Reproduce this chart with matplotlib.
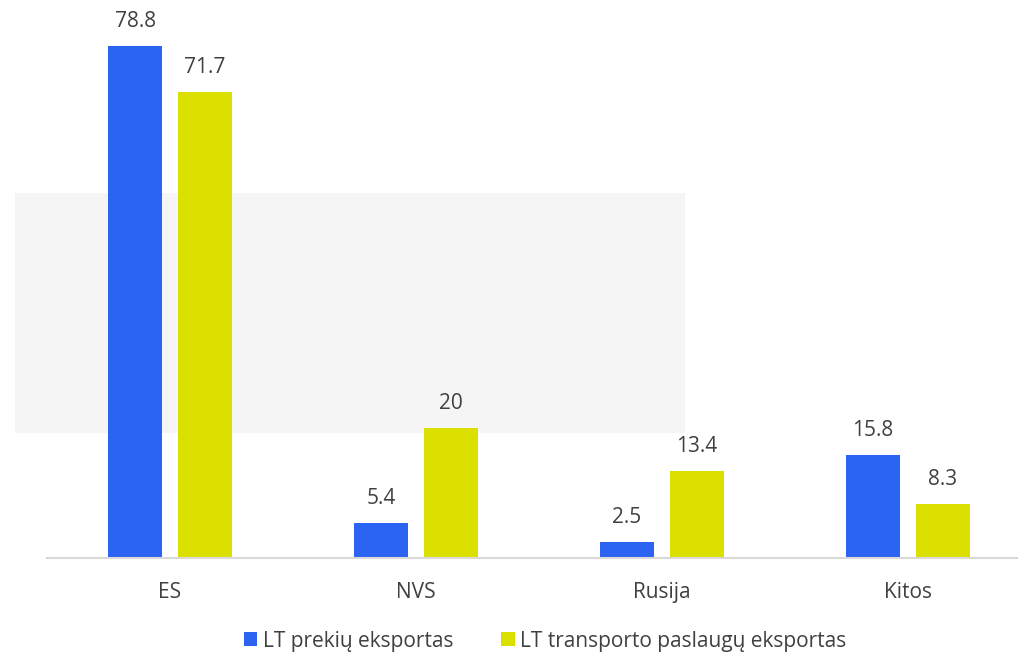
import numpy as np
import matplotlib.pyplot as plt
from matplotlib.patches import Rectangle

# --- data
categories = ['ES', 'NVS', 'Rusija', 'Kitos']
goods = [78.8, 5.4, 2.5, 15.8]
transport = [71.7, 20, 13.4, 8.3]
series_names = ['LT prekių eksportas', 'LT transporto paslaugų eksportas']

BLUE = '#2b63f2'
YELLOW = '#dce000'
TXT = '#404040'
FS = 15

plt.rcParams['font.family'] = ['Open Sans', 'DejaVu Sans']

W, H = 1018, 656
fig = plt.figure(figsize=(W / 100, H / 100), dpi=100)

ax = fig.add_axes([47 / W, 1 - 558 / H, 1 - 47 / W, 558 / H])
ax.patch.set_alpha(0)

# light grey decorative band behind the bars
ax.add_patch(Rectangle((15 / W, 1 - 433 / H), 670 / W, 240 / H,
                       transform=fig.transFigure, facecolor='#f5f5f5',
                       edgecolor='none', zorder=0, clip_on=False))

x = np.arange(len(categories))
bw = 0.22
off = 0.142
b1 = ax.bar(x - off, goods, bw, color=BLUE, label=series_names[0], zorder=2)
b2 = ax.bar(x + off, transport, bw, color=YELLOW, label=series_names[1], zorder=2)

for bars, vals in ((b1, goods), (b2, transport)):
    for r, v in zip(bars, vals):
        ax.annotate('{:g}'.format(v), (r.get_x() + r.get_width() / 2, v),
                    xytext=(0, 10), textcoords='offset points',
                    ha='center', va='bottom', fontsize=FS, color=TXT)

ax.set_xlim(-0.5, (W - 170) / 246.0)
ax.set_ylim(0, 558 / 6.5)
ax.set_yticks([])
ax.set_xticks(x)
ax.set_xticklabels(categories, fontsize=FS, color=TXT)
ax.tick_params(axis='x', length=0, pad=17)
for s in ('top', 'right', 'left'):
    ax.spines[s].set_visible(False)
ax.spines['bottom'].set_color('#d9d9d9')
ax.spines['bottom'].set_linewidth(1.5)

fig.legend(handles=[b1, b2], loc='center', bbox_to_anchor=(545 / W, 1 - 641 / H),
           ncol=2, frameon=False, fontsize=FS, handlelength=0.65,
           handleheight=0.65, handletextpad=0.25, columnspacing=2.3,
           labelcolor=TXT)

fig.savefig('out.png', dpi=100)
